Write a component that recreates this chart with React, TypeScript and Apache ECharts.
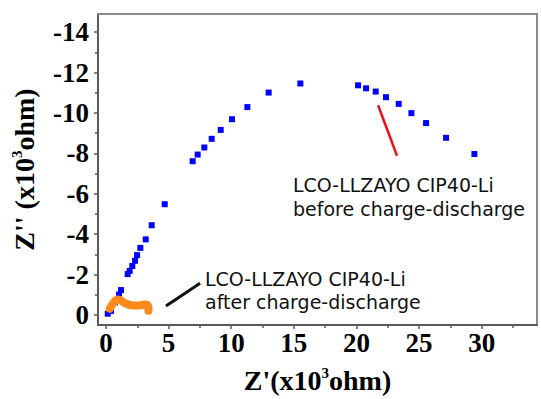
import React, { useEffect, useRef } from "react";
import * as echarts from "echarts";

// Z' (x10^3 ohm) and -Z'' (x10^3 ohm), before charge-discharge
const beforeZre = [0.14, 0.4, 0.72, 1.04, 1.2, 1.73, 1.89, 2.1, 2.32, 2.48, 2.74, 3.17, 3.65, 4.69, 6.92, 7.32, 7.85, 8.44, 9.16, 10.06, 11.29, 12.99, 15.52, 20.13, 20.77, 21.54, 22.36, 23.38, 24.39, 25.56, 27.16, 29.42];
const beforeZim = [0.06, 0.2, 0.63, 1.01, 1.23, 2.02, 2.18, 2.42, 2.68, 2.96, 3.32, 3.74, 4.44, 5.48, 7.61, 7.94, 8.29, 8.72, 9.16, 9.69, 10.29, 11.01, 11.46, 11.37, 11.22, 11.06, 10.78, 10.45, 9.99, 9.5, 8.77, 7.97];

// after charge-discharge
const afterZre = [0.3, 0.55, 0.96, 1.44, 1.92, 2.4, 2.88, 3.19, 3.39, 3.39];
const afterZim = [0.3, 0.56, 0.76, 0.61, 0.49, 0.46, 0.49, 0.51, 0.37, 0.2];

// annotation pointer lines (data coordinates)
const redPointer = [[21.73, 10.38], [23.24, 7.88]];
const blackPointer = [[4.79, 0.44], [7.51, 1.57]];

const xTickValues = [0, 5, 10, 15, 20, 25, 30];
const yTickValues = [0, 2, 4, 6, 8, 10, 12, 14];

const labelBefore = ["LCO-LLZAYO CIP40-Li", "before charge-discharge"];
const labelAfter = ["LCO-LLZAYO CIP40-Li", "after charge-discharge"];

const serif = "'Liberation Serif', 'Times New Roman', serif";
const annoFont = "'DejaVu Sans', sans-serif";

export default function App() {
  const ref = useRef<HTMLDivElement>(null);
  useEffect(() => {
    if (!ref.current) return;
    const chart = echarts.init(ref.current, undefined, { renderer: "svg" });
    const axisColor = "#5a5a5a";
    const frameColor = "#8a8a8a";
    const nameRich = {
      a: { fontFamily: serif, fontWeight: "bold", fontSize: 28, color: "#000", lineHeight: 30 },
      s: { fontFamily: serif, fontWeight: "bold", fontSize: 15, color: "#000", verticalAlign: "top", lineHeight: 30 },
    };
    const tickLabel = {
      fontFamily: serif,
      fontWeight: "bold",
      fontSize: 27,
      color: "#000",
    };
    chart.setOption({
      animation: false,
      backgroundColor: "#fff",
      grid: { left: 98, top: 14, right: 4, bottom: 70, containLabel: false },
      xAxis: [
        {
          type: "value",
          min: -0.64,
          max: 34.42,
          splitNumber: 7,
          name: "{a|Z'(x10}{s|3}{a|ohm)}",
          nameLocation: "middle",
          nameGap: 40,
          nameTextStyle: { rich: nameRich },
          axisLine: { show: true, onZero: false, lineStyle: { color: axisColor, width: 2 } },
          axisTick: { show: true, length: 4, inside: false, lineStyle: { color: axisColor, width: 1.5 }, customValues: xTickValues },
          minorTick: { show: true, splitNumber: 2, length: 3, lineStyle: { color: axisColor, width: 1.5 } },
          axisLabel: { ...tickLabel, margin: 4, customValues: xTickValues, formatter: (v: number) => String(v) },
          splitLine: { show: false },
        },
        {
          type: "value",
          position: "top",
          min: -0.64,
          max: 34.42,
          axisLine: { show: true, onZero: false, lineStyle: { color: frameColor, width: 2 } },
          axisTick: { show: false },
          axisLabel: { show: false },
          splitLine: { show: false },
        },
      ],
      yAxis: [
        {
          type: "value",
          min: -0.5,
          max: 14.9,
          splitNumber: 8,
          name: "{a|Z'' (x10}{s|3}{a|ohm)}",
          nameLocation: "middle",
          nameRotate: 90,
          nameGap: 59,
          nameTextStyle: { rich: nameRich },
          axisLine: { show: true, onZero: false, lineStyle: { color: axisColor, width: 2 } },
          axisTick: { show: true, length: 4, inside: false, lineStyle: { color: axisColor, width: 1.5 }, customValues: yTickValues },
          minorTick: { show: true, splitNumber: 2, length: 3, lineStyle: { color: axisColor, width: 1.5 } },
          axisLabel: {
            ...tickLabel,
            margin: 9,
            customValues: yTickValues,
            formatter: (v: number) => (v === 0 ? "0" : "-" + v),
          },
          splitLine: { show: false },
        },
        {
          type: "value",
          position: "right",
          min: -0.5,
          max: 14.9,
          axisLine: { show: true, onZero: false, lineStyle: { color: frameColor, width: 2 } },
          axisTick: { show: false },
          axisLabel: { show: false },
          splitLine: { show: false },
        },
      ],
      series: [
        {
          type: "scatter",
          name: "before",
          data: beforeZre.map((x, i) => [x, beforeZim[i]]),
          symbol: "rect",
          symbolSize: 6,
          itemStyle: { color: "#0000ff", opacity: 1 },
          silent: true,
        },
        {
          type: "line",
          name: "after",
          data: afterZre.map((x, i) => [x, afterZim[i]]),
          smooth: true,
          showSymbol: false,
          symbol: "none",
          lineStyle: { color: "#fb8a1c", width: 8, cap: "round", join: "round" },
          silent: true,
        },
        {
          type: "line",
          data: redPointer,
          symbol: "none",
          lineStyle: { color: "#e8141c", width: 2.5 },
          silent: true,
        },
        {
          type: "line",
          data: blackPointer,
          symbol: "none",
          lineStyle: { color: "#111", width: 3 },
          silent: true,
        },
      ],
      graphic: [
        { type: "text", left: 293, top: 175, style: { text: labelBefore[0], font: `19px ${annoFont}`, fill: "#111" } },
        { type: "text", left: 293, top: 199, style: { text: labelBefore[1], font: `19px ${annoFont}`, fill: "#111" } },
        { type: "text", left: 205, top: 269, style: { text: labelAfter[0], font: `19px ${annoFont}`, fill: "#111" } },
        { type: "text", left: 205, top: 292, style: { text: labelAfter[1], font: `19px ${annoFont}`, fill: "#111" } },
      ],
    });
    return () => chart.dispose();
  }, []);
  return <div ref={ref} style={{ width: 541, height: 399, position: "absolute", left: 0, top: 0 }} />;
}
